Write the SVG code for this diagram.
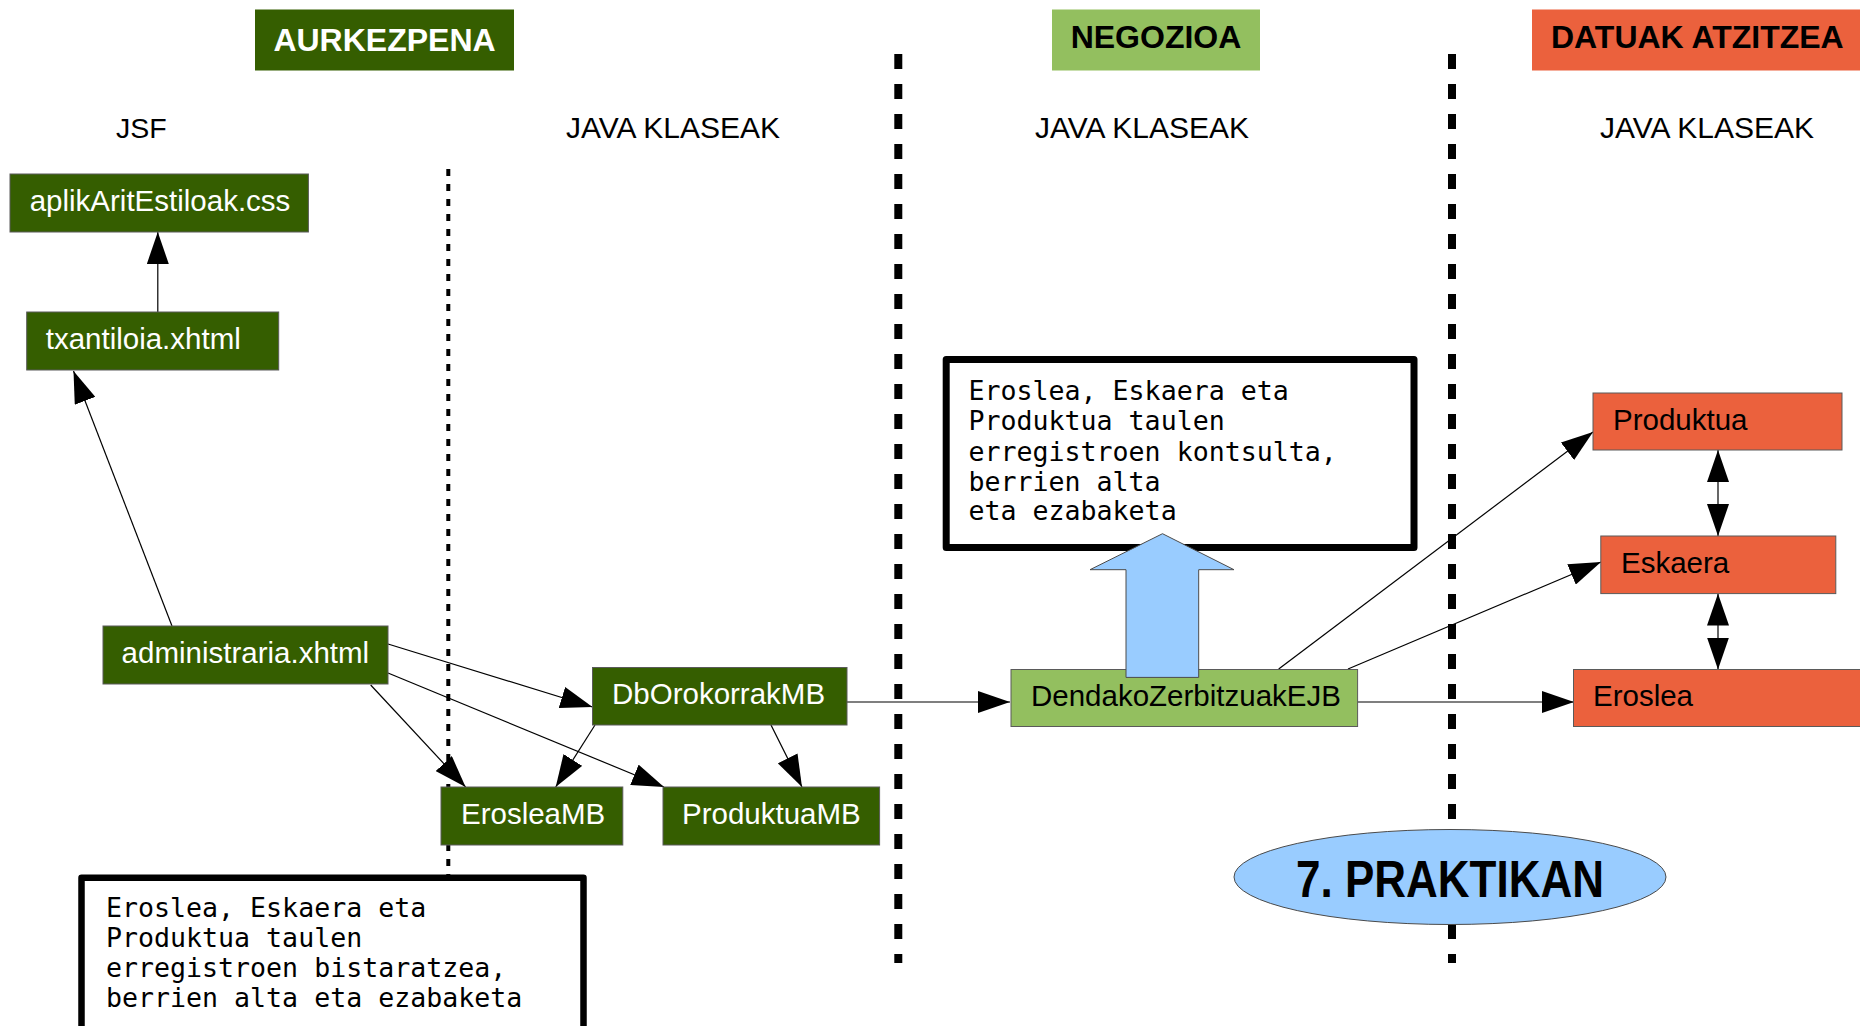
<svg xmlns="http://www.w3.org/2000/svg" width="1860" height="1026" viewBox="0 0 1860 1026">
<style>
.dk{fill:#355e00;stroke:#5a5a5a;stroke-width:1}
.lg{fill:#93bf5f;stroke:#5a5a5a;stroke-width:1}
.or{fill:#eb613d;stroke:#5a5a5a;stroke-width:1}
.wt{font-family:"Liberation Sans",Arial,sans-serif;font-size:29.5px;fill:#ffffff}
.bt{font-family:"Liberation Sans",Arial,sans-serif;font-size:29.5px;fill:#000000}
.hd{font-family:"Liberation Sans",Arial,sans-serif;font-size:32px;font-weight:bold}
.lb{font-family:"Liberation Sans",Arial,sans-serif;font-size:30px;fill:#000}
.mono{font-family:"DejaVu Sans Mono","Liberation Mono",monospace;font-size:26.6px;fill:#000}
.note{fill:#ffffff;stroke:#000;stroke-width:7;stroke-linejoin:round}
.edge{stroke:#000;stroke-width:1.2;fill:none;marker-end:url(#ah)}
.dbl{marker-start:url(#ahs)}
</style>
<defs>
<marker id="ah" markerUnits="userSpaceOnUse" viewBox="0 0 32 22" markerWidth="32" markerHeight="22" refX="32" refY="11" orient="auto">
<path d="M0,0 L32,11 L0,22 z" fill="#000"/>
</marker>
<marker id="ahs" markerUnits="userSpaceOnUse" viewBox="0 0 32 22" markerWidth="32" markerHeight="22" refX="32" refY="11" orient="auto-start-reverse">
<path d="M0,0 L32,11 L0,22 z" fill="#000"/>
</marker>
</defs>
<rect width="1860" height="1026" fill="#ffffff"/>

<g id="headers">
<rect x="255" y="9.5" width="259" height="61" fill="#355e00"/>
<text class="hd" x="384.5" y="51" text-anchor="middle" fill="#ffffff">AURKEZPENA</text>
<rect x="1052" y="9.5" width="208" height="61" fill="#93bf5f"/>
<text class="hd" x="1156" y="48" text-anchor="middle" fill="#000">NEGOZIOA</text>
<rect x="1532" y="9.5" width="330" height="61" fill="#eb613d"/>
<text class="hd" x="1551" y="48" fill="#000">DATUAK ATZITZEA</text>
</g>

<g id="lane-labels">
<text class="lb" x="116" y="138" style="font-size:28.5px">JSF</text>
<text class="lb" x="566" y="138">JAVA KLASEAK</text>
<text class="lb" x="1035" y="138">JAVA KLASEAK</text>
<text class="lb" x="1600" y="138">JAVA KLASEAK</text>
</g>

<g id="dividers">
<line x1="448.3" y1="169" x2="448.3" y2="875" stroke="#000" stroke-width="4" stroke-dasharray="7 8"/>
<line x1="898.3" y1="54" x2="898.3" y2="963" stroke="#000" stroke-width="8" stroke-dasharray="15 15"/>
<line x1="1452" y1="54" x2="1452" y2="963" stroke="#000" stroke-width="8" stroke-dasharray="15 15"/>
</g>

<g id="note-negozioa">
<rect class="note" x="946.2" y="359.5" width="467.8" height="188"/>
<text class="mono" x="968.5" y="400">Eroslea, Eskaera eta</text>
<text class="mono" x="968.5" y="430">Produktua taulen</text>
<text class="mono" x="968.5" y="461">erregistroen kontsulta,</text>
<text class="mono" x="968.5" y="491">berrien alta</text>
<text class="mono" x="968.5" y="520">eta ezabaketa</text>
</g>

<g id="note-aurkezpena">
<rect class="note" x="81.5" y="877.8" width="502" height="170" style="stroke-width:6.5"/>
<text class="mono" x="106" y="917">Eroslea, Eskaera eta</text>
<text class="mono" x="106" y="947">Produktua taulen</text>
<text class="mono" x="106" y="977">erregistroen bistaratzea,</text>
<text class="mono" x="106" y="1007">berrien alta eta ezabaketa</text>
</g>

<g id="connectors">
<line class="edge" x1="157.8" y1="312" x2="157.8" y2="232"/>
<line class="edge" x1="172" y1="626" x2="73.5" y2="371"/>
<line class="edge" x1="388" y1="644" x2="592.5" y2="707"/>
<line class="edge" x1="370.7" y1="685" x2="465.6" y2="787"/>
<line class="edge" x1="388" y1="673" x2="664" y2="787"/>
<line class="edge" x1="595" y1="725" x2="555.7" y2="787"/>
<line class="edge" x1="771" y1="725" x2="802" y2="787"/>
<line class="edge" x1="847" y1="702" x2="1010" y2="702"/>
<line class="edge" x1="1357.6" y1="702" x2="1574" y2="702"/>
<line class="edge" x1="1348" y1="669" x2="1601" y2="562"/>
<line class="edge" x1="1278.7" y1="669" x2="1593" y2="432"/>
<line class="edge dbl" x1="1718" y1="450" x2="1718" y2="536"/>
<line class="edge dbl" x1="1718" y1="593.6" x2="1718" y2="669.5"/>
</g>

<g id="aplikAritEstiloak">
<rect class="dk" x="10" y="174" width="298.4" height="58"/>
<text class="wt" x="29.7" y="211">aplikAritEstiloak.css</text>
</g>
<g id="txantiloia">
<rect class="dk" x="26.7" y="312" width="252" height="58"/>
<text class="wt" x="45.7" y="349">txantiloia.xhtml</text>
</g>
<g id="administraria">
<rect class="dk" x="103" y="626" width="285" height="58"/>
<text class="wt" x="121.6" y="663">administraria.xhtml</text>
</g>
<g id="DbOrokorrakMB">
<rect class="dk" x="592.5" y="667.5" width="254.5" height="57.5"/>
<text class="wt" x="612" y="704">DbOrokorrakMB</text>
</g>
<g id="ErosleaMB">
<rect class="dk" x="441" y="787" width="181.8" height="58"/>
<text class="wt" x="461" y="824">ErosleaMB</text>
</g>
<g id="ProduktuaMB">
<rect class="dk" x="663" y="787" width="216.6" height="58"/>
<text class="wt" x="682" y="824">ProduktuaMB</text>
</g>
<g id="DendakoZerbitzuakEJB">
<rect class="lg" x="1011" y="669.5" width="346.6" height="57"/>
<text class="bt" x="1031" y="706">DendakoZerbitzuakEJB</text>
</g>
<g id="Produktua">
<rect class="or" x="1593" y="393" width="249" height="57"/>
<text class="bt" x="1613" y="429.5">Produktua</text>
</g>
<g id="Eskaera">
<rect class="or" x="1600.8" y="536" width="235" height="57.6"/>
<text class="bt" x="1621" y="573">Eskaera</text>
</g>
<g id="Eroslea">
<rect class="or" x="1573.5" y="669.5" width="300" height="57"/>
<text class="bt" x="1593" y="706">Eroslea</text>
</g>

<g id="block-arrow">
<polygon points="1162.5,533.7 1234,569.7 1198.7,569.7 1198.7,677.4 1126,677.4 1126,569.7 1090,569.7" fill="#99ccff" stroke="#4a4a4a" stroke-width="1"/>
</g>

<g id="praktikan">
<ellipse cx="1450" cy="877" rx="216" ry="47.5" fill="#99ccff" stroke="#4a4a4a" stroke-width="1"/>
<text x="1450" y="897" text-anchor="middle" textLength="308" lengthAdjust="spacingAndGlyphs" style="font-family:'Liberation Sans',Arial,sans-serif;font-size:52px;font-weight:bold;fill:#000">7. PRAKTIKAN</text>
</g>
</svg>
